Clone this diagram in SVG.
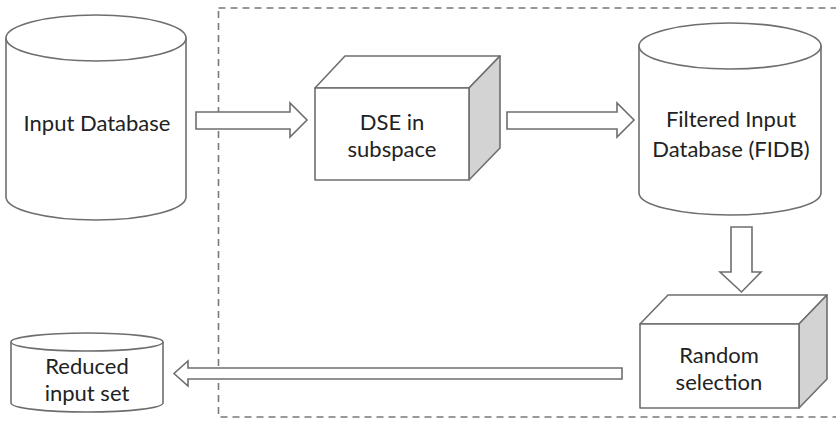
<svg xmlns="http://www.w3.org/2000/svg" width="836" height="422" viewBox="0 0 836 422">
  <style>
    .shape { fill: #ffffff; stroke: #6e6e6e; stroke-width: 1.6; stroke-linejoin: round; }
    .side { fill: #d3d3d3; stroke: #6e6e6e; stroke-width: 1.6; stroke-linejoin: round; }
    .arrow { fill: #ffffff; stroke: #6e6e6e; stroke-width: 1.6; stroke-linejoin: miter; }
    .frame { fill: none; stroke: #7a7a7a; stroke-width: 1.6; stroke-dasharray: 7 5; }
    .label { font-family: Lato, "Open Sans", "Liberation Sans", sans-serif; font-size: 22px; fill: #222222; text-anchor: middle; }
  </style>

  <!-- dashed boundary around the reduction stage -->
  <rect class="frame" x="218.5" y="8" width="640" height="409"/>

  <g id="input-database">
    <path class="shape" d="M6,38 L6,197 A90,23 0 0 0 186,197 L186,38"/>
    <ellipse class="shape" cx="96" cy="38" rx="90" ry="23"/>
    <text class="label" x="97" y="131">Input Database</text>
  </g>

  <g id="dse-subspace">
    <polygon class="shape" points="315,88 345,56 500,56 469,88"/>
    <polygon class="side" points="469,88 500,56 500,148 469,180"/>
    <rect class="shape" x="315" y="88" width="154" height="92"/>
    <text class="label" x="392" y="130">DSE in</text>
    <text class="label" x="392" y="157">subspace</text>
  </g>

  <g id="filtered-input-database">
    <path class="shape" d="M639,46 L639,193 A91,22 0 0 0 821,193 L821,46"/>
    <ellipse class="shape" cx="730" cy="46" rx="91" ry="23"/>
    <text class="label" x="731" y="127">Filtered Input</text>
    <text class="label" x="731" y="157">Database (FIDB)</text>
  </g>

  <g id="random-selection">
    <polygon class="shape" points="640,324 668,295 827,295 799,324"/>
    <polygon class="side" points="799,324 827,295 827,379 799,408"/>
    <rect class="shape" x="640" y="324" width="159" height="84"/>
    <text class="label" x="719" y="363">Random</text>
    <text class="label" x="719" y="390">selection</text>
  </g>

  <g id="reduced-input-set">
    <path class="shape" d="M11,342 L11,403 A76,9 0 0 0 163,403 L163,342"/>
    <ellipse class="shape" cx="87" cy="342" rx="76" ry="9"/>
    <text class="label" x="87" y="374">Reduced</text>
    <text class="label" x="87" y="401">input set</text>
  </g>

  <g id="connectors">
    <polygon class="arrow" points="196,112 290,112 290,103 307,120 290,137 290,129 196,129"/>
    <polygon class="arrow" points="507,112 617,112 617,103 634,120 617,137 617,129 507,129"/>
    <polygon class="arrow" points="731,227 752,227 752,272 761,272 741.5,292 720,272 731,272"/>
    <polygon class="arrow" points="622,368 188,368 188,361 174,373.5 188,386 188,379 622,379"/>
  </g>
</svg>
